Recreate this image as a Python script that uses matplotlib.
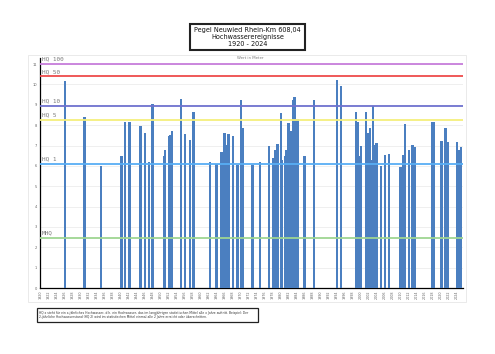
import matplotlib
matplotlib.use("Agg")
import matplotlib.pyplot as plt
from matplotlib.patches import Rectangle

# ── Data ──────────────────────────────────────────────────────────────────────

# event date (decimal year) and peak water level (m)
event_year = [
    1926.07, 1930.87, 1935.02, 1940.15, 1941.07, 1942.14, 1944.88, 1946.05,
    1947.04, 1947.96, 1950.77, 1951.02, 1952.01, 1952.44, 1952.84, 1955.0,
    1956.0, 1957.24, 1958.16, 1962.21, 1963.88, 1965.12, 1965.87, 1966.27,
    1966.94, 1968.01, 1969.18, 1970.10, 1970.42, 1972.91, 1974.83, 1977.06,
    1978.13, 1978.56, 1979.13, 1979.95, 1980.2, 1981.04, 1981.44, 1981.87,
    1982.69, 1983.11, 1983.43, 1983.78, 1984.1, 1985.85, 1988.26, 1993.98,
    1995.05, 1998.71, 1999.1, 1999.53, 1999.95, 2001.19, 2001.69, 2002.19,
    2002.51, 2002.94, 2003.33, 2003.93, 2005.0, 2006.0, 2007.06, 2009.9,
    2010.55, 2010.97, 2011.97, 2012.89, 2013.38, 2017.76, 2018.18, 2020.1,
    2021.09, 2021.59, 2023.98, 2024.45, 2024.95,
]
event_level = [
    10.16, 8.39, 6.00, 6.47, 8.16, 8.16, 7.98, 7.62,
    6.19, 9.05, 6.47, 6.78, 7.49, 7.54, 7.73, 9.30,
    7.55, 7.26, 8.64, 6.19, 6.07, 6.67, 7.62, 7.04,
    7.55, 7.45, 6.05, 9.26, 7.87, 6.05, 6.19, 7.00,
    6.39, 6.76, 7.06, 8.60, 6.30, 6.47, 6.76, 8.11,
    7.70, 9.26, 9.36, 8.28, 8.28, 6.47, 9.26, 10.21,
    9.92, 8.65, 8.14, 6.47, 7.00, 8.65, 7.62, 7.87,
    6.30, 8.93, 7.04, 7.13, 6.00, 6.55, 6.57, 5.96,
    6.55, 8.06, 6.80, 7.04, 6.93, 8.14, 8.14, 7.24,
    7.87, 7.18, 7.18, 6.80, 6.93,
]

hq_labels = ["HQ 100", "HQ 50", "HQ 10", "HQ 5", "HQ 1", "MHQ"]
hq_levels = [11.0, 10.4, 8.95, 8.25, 6.1, 2.45]
hq_colors = ["#c77ddb", "#ee4b4b", "#6f72cf", "#f4ef7c", "#58aef5", "#9ed592"]

year_ticks = list(range(1920, 2025, 2))
y_ticks = list(range(0, 12))

footnote = ("HQ x steht für ein x-jährliches Hochwasser, d.h. ein Hochwasser, das im langjährigen "
            "statistischen Mittel alle x Jahre auftritt. Beispiel: Der\n2-jährliche Hochwasserstand "
            "(HQ 2) wird im statistischen Mittel einmal alle 2 Jahre erreicht oder überschritten.")

# ── Figure ────────────────────────────────────────────────────────────────────

fig = plt.figure(figsize=(4.95, 3.54), dpi=100)
fig.patch.set_facecolor("white")

# light frame around chart area
fig.add_artist(Rectangle((28 / 495, 1 - 302 / 354), 438 / 495, 247 / 354,
                         transform=fig.transFigure, fill=False,
                         edgecolor="#e6e6e6", linewidth=0.6))

ax = fig.add_axes([40 / 495, 1 - 288 / 354, 423 / 495, 230 / 354])
ax.bar(event_year, event_level, width=0.6, color="#4b7fc0", zorder=3)

for lab, lvl, col in zip(hq_labels, hq_levels, hq_colors):
    ax.axhline(lvl, color=col, linewidth=1.3, zorder=4)
    ax.text(1920.3, lvl + 0.12, lab, family="DejaVu Sans Mono", fontsize=4.3,
            color="#7a7a7a", va="bottom", ha="left", zorder=5)

ax.set_xlim(1919.8, 2025.5)
ax.set_ylim(0, 11.3)
ax.set_xticks(year_ticks)
ax.set_xticklabels([str(y) for y in year_ticks], rotation=90, fontsize=2.4, color="#666666")
ax.set_yticks(y_ticks)
ax.set_yticklabels([str(v) for v in y_ticks], fontsize=2.6, color="#666666")
ax.tick_params(length=0, pad=2)
ax.grid(axis="y", color="#ececec", linewidth=0.6, zorder=0)
for side in ["top", "right"]:
    ax.spines[side].set_visible(False)
ax.spines["left"].set_linewidth(0.9)
ax.spines["bottom"].set_linewidth(0.9)

# title box
fig.add_artist(Rectangle((190 / 495, 1 - 50 / 354), 115 / 495, 26 / 354,
                         transform=fig.transFigure, fill=False,
                         edgecolor="#222222", linewidth=1.5))
fig.text(247.5 / 495, 1 - 37 / 354,
         "Pegel Neuwied Rhein-Km 608,04\nHochwasserereignisse\n1920 - 2024",
         ha="center", va="center", fontsize=4.7, linespacing=1.15, color="#111111")
fig.text(250 / 495, 1 - 58 / 354, "Wert in Meter", ha="center", va="center",
         fontsize=2.8, color="#777777")

# footnote box
fig.add_artist(Rectangle((37 / 495, 1 - 322 / 354), 221 / 495, 14 / 354,
                         transform=fig.transFigure, fill=False,
                         edgecolor="#222222", linewidth=0.9))
fig.text(39 / 495, 1 - 315 / 354, footnote, ha="left", va="center",
         fontsize=2.2, color="#333333", linespacing=1.2)

fig.savefig("out.png", dpi=100)
